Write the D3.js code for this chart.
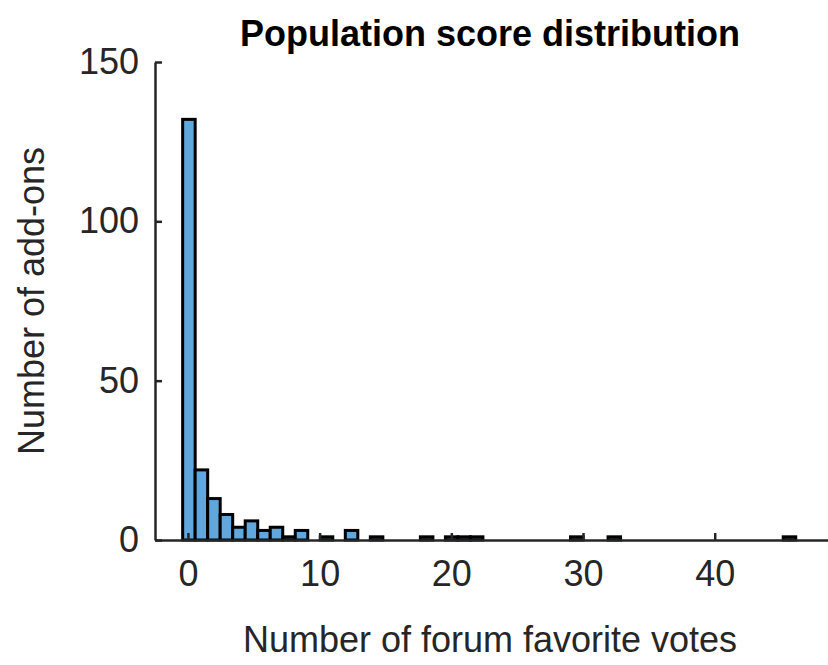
<!DOCTYPE html>
<html><head><meta charset="utf-8">
<script src="https://cdn.jsdelivr.net/npm/d3@7"></script>
<style>body{margin:0;background:#fff}svg{font-family:"Liberation Sans",Arial,sans-serif}</style>
</head><body>
<svg id="chart" width="828" height="665"></svg>
<script>
// histogram bins: start edge and width in data units
const binStart = -0.4;
const binWidth = 0.95;
const counts = [132, 22, 13, 8, 4, 6, 3, 4, 1, 3, 0, 1, 0, 3, 0, 1, 0, 0, 0, 1,
  0, 1, 1, 1, 0, 0, 0, 0, 0, 0, 0, 1, 0, 0, 1, 0, 0, 0, 0, 0,
  0, 0, 0, 0, 0, 0, 0, 0, 1];
const xTicks = [0, 10, 20, 30, 40];
const yTicks = [0, 50, 100, 150];

const svg = d3.select('#chart');
const mLeft = 155, mRight = 828, mTop = 62, mBottom = 540;

const x = d3.scaleLinear().domain([-2.5, 48.6]).range([mLeft, mRight]);
const y = d3.scaleLinear().domain([0, 150]).range([mBottom, mTop]);

const bins = counts.map((c, i) => ({ x0: binStart + i * binWidth, x1: binStart + (i + 1) * binWidth, c }));

svg.append('g').selectAll('rect')
  .data(bins)
  .enter()
  .append('rect')
  .attr('x', d => x(d.x0))
  .attr('width', d => x(d.x1) - x(d.x0))
  .attr('y', d => y(d.c))
  .attr('height', d => y(0) - y(d.c))
  .style('fill', '#5fa7dc')
  .style('stroke', '#000')
  .style('stroke-width', 3);

// axes, ticks pointing inward
const xAxis = svg.append('g').attr('transform', `translate(0,${mBottom})`)
  .call(d3.axisBottom(x).tickValues(xTicks).tickSizeInner(-7).tickSizeOuter(0).tickPadding(20));
const yAxis = svg.append('g').attr('transform', `translate(${mLeft},0)`)
  .call(d3.axisLeft(y).tickValues(yTicks).tickSizeInner(-7).tickSizeOuter(0).tickPadding(16));
[xAxis, yAxis].forEach(a => {
  a.select('.domain').style('stroke', '#262626').style('stroke-width', 2.5);
  a.selectAll('.tick line').style('stroke', '#262626').style('stroke-width', 2.5);
  a.selectAll('.tick text').style('font-size', '36px').style('fill', '#262626')
    .style('font-family', '"Liberation Sans",Arial,sans-serif');
});

svg.append('text')
  .attr('x', 490).attr('y', 46)
  .attr('text-anchor', 'middle')
  .style('font-size', '36px').style('font-weight', 'bold')
  .text('Population score distribution');

svg.append('text')
  .attr('x', 490).attr('y', 652)
  .attr('text-anchor', 'middle')
  .style('font-size', '36px').style('fill', '#262626')
  .text('Number of forum favorite votes');

svg.append('text')
  .attr('transform', `translate(44,${(mTop + mBottom) / 2}) rotate(-90)`)
  .attr('text-anchor', 'middle')
  .style('font-size', '36px').style('fill', '#262626')
  .text('Number of add-ons');
</script>
</body></html>
